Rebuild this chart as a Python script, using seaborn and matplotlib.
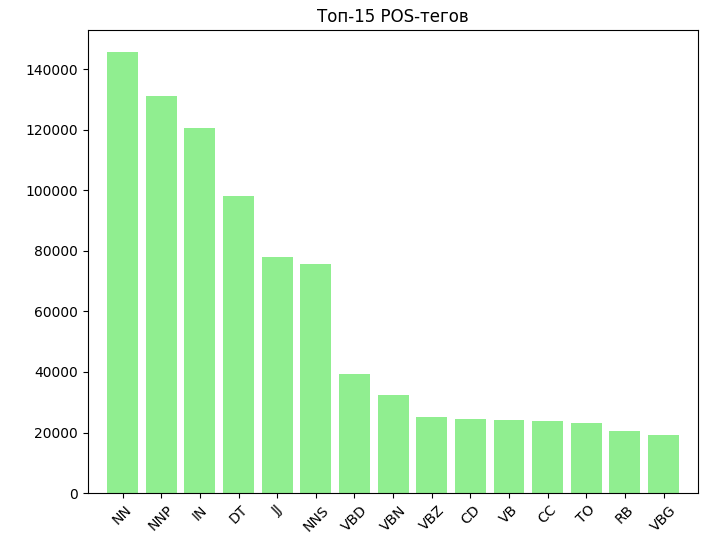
import matplotlib
matplotlib.use("Agg")
import matplotlib.pyplot as plt
import seaborn as sns
import pandas as pd

tags = ["NN","NNP","IN","DT","JJ","NNS","VBD","VBN","VBZ","CD","VB","CC","TO","RB","VBG"]
counts = [145500,131000,120500,98000,78000,75800,39300,32300,25000,24500,24000,23700,23000,20500,19200]

df = pd.DataFrame({"tag": tags, "count": counts})
fig = plt.figure(figsize=(7.14, 5.51), dpi=100)
ax = fig.add_axes([0.123, 0.105, 0.855, 0.84])
sns.barplot(data=df, x="tag", y="count", color="lightgreen", saturation=1, width=0.8, ax=ax)
ax.set_xlabel("")
ax.set_ylabel("")
ax.set_title("Топ-15 POS-тегов", fontsize=12)
ax.set_xlim(-0.9, 14.9)
ax.set_ylim(0, 152800)
plt.setp(ax.get_xticklabels(), rotation=45)
ax.tick_params(labelsize=10)
fig.savefig("out.png", dpi=100)
